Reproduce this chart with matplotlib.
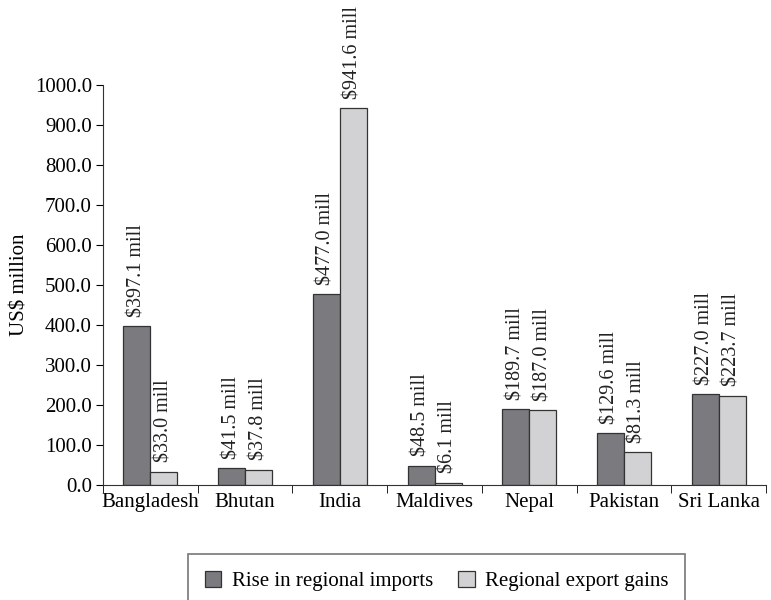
import numpy as np
import matplotlib
matplotlib.use("Agg")
import matplotlib.pyplot as plt

plt.rcParams['font.family'] = ['Liberation Serif', 'DejaVu Serif']

countries = ["Bangladesh", "Bhutan", "India", "Maldives", "Nepal", "Pakistan", "Sri Lanka"]
imports_rise = [397.1, 41.5, 477.0, 48.5, 189.7, 129.6, 227.0]
export_gains = [33.0, 37.8, 941.6, 6.1, 187.0, 81.3, 223.7]

dark = "#7b7b7f"
light = "#d2d2d4"

fig = plt.figure(figsize=(7.71, 6.0), dpi=100)
ax = fig.add_axes([0.1336, 0.1917, 0.86, 0.6666])

x = np.arange(len(countries))
w = 0.285
b1 = ax.bar(x - w / 2, imports_rise, w, color=dark, edgecolor="#333333", linewidth=0.9,
            label="Rise in regional imports")
b2 = ax.bar(x + w / 2, export_gains, w, color=light, edgecolor="#333333", linewidth=0.9,
            label="Regional export gains")

# value labels, rotated, above each bar
for xs, vals in ((x - w / 2, imports_rise), (x + w / 2, export_gains)):
    for xi, v in zip(xs, vals):
        ax.text(xi, v + 24, f"${v:.1f} mill", rotation=90, ha="center", va="bottom",
                fontsize=14.5, color="#222222", clip_on=False)

ax.set_xlim(-0.5, len(countries) - 0.5)
ax.set_ylim(0, 1000)
ax.set_yticks(np.arange(0, 1001, 100))
ax.set_yticklabels([f"{t:.1f}" for t in np.arange(0, 1001, 100)], fontsize=15)
ax.set_ylabel("US$ million", fontsize=15, labelpad=4)

ax.set_xticks(x)
ax.set_xticklabels(countries, fontsize=15)
ax.tick_params(axis="x", length=0, pad=6)
ax.set_xticks(np.arange(-0.5, len(countries), 1), minor=True)
ax.tick_params(axis="x", which="minor", length=6, direction="out")
ax.tick_params(axis="y", length=5, direction="out", pad=3)

for s in ("top", "right"):
    ax.spines[s].set_visible(False)
for s in ("left", "bottom"):
    ax.spines[s].set_color("#333333")

leg = fig.legend(handles=[b1, b2], loc="upper left", bbox_to_anchor=(0.2438, 0.0767),
                 borderaxespad=0, ncol=2, fontsize=15, frameon=True, fancybox=False,
                 handlelength=0.8, handleheight=0.8, handletextpad=0.5, columnspacing=1.2,
                 borderpad=0.8, edgecolor="#555555")
leg.get_frame().set_linewidth(1.2)

fig.savefig("out.png", dpi=100)
